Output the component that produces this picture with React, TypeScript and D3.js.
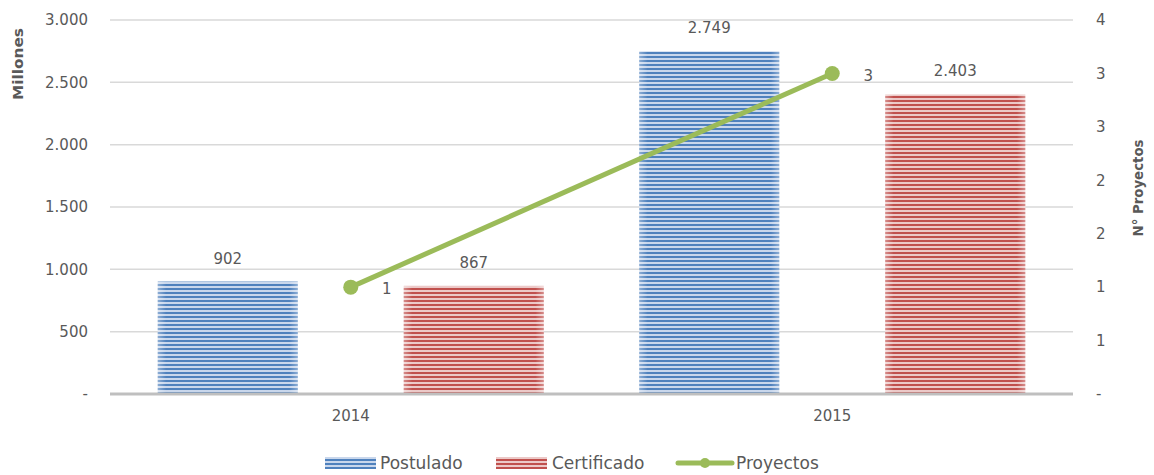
import * as d3 from 'd3';

const years = ['2014', '2015'];
const postulado = [902, 2749];
const certificado = [867, 2403];
const proyectos = [1, 3];
const leftTicks = [0, 500, 1000, 1500, 2000, 2500, 3000];
const rightTicks = [0, 0.5, 1, 1.5, 2, 2.5, 3, 3.5];

const W = 1154;
const H = 475;
const m = { top: 20, right: 81, bottom: 81, left: 110 };
const font = "'Century Gothic', 'URW Gothic', 'DejaVu Sans', sans-serif";
const textColor = '#595959';

const fmtThousands = (v: number) => (v === 0 ? '-' : d3.format(',')(v).replace(/,/g, '.'));
const fmtRight = (v: number) => (v === 0 ? '-' : String(Math.round(v + 1e-9)));

export default function App() {
  const x = d3.scaleBand().domain(years).range([m.left, W - m.right]);
  const y = d3.scaleLinear().domain([0, 3000]).range([H - m.bottom, m.top]);
  const y2 = d3.scaleLinear().domain([0, 3.5]).range([H - m.bottom, m.top]);
  const barW = 140;
  const offset = 123;
  const cx = (d: string) => (x(d) ?? 0) + x.bandwidth() / 2;

  const line = d3
    .line<number>()
    .x((_, i) => cx(years[i]))
    .y((d) => y2(d));

  const series = [
    { name: 'Postulado', values: postulado, dx: -offset, fill: 'url(#pBlue)' },
    { name: 'Certificado', values: certificado, dx: offset, fill: 'url(#pRed)' },
  ];

  return (
    <svg width={W} height={H} style={{ display: 'block', fontFamily: font }}>
      <style>{'body{margin:0}'}</style>
      <defs>
        <pattern id="pBlue" width="4" height="4" patternUnits="userSpaceOnUse">
          <rect width="4" height="4" fill="#c9d7ec" />
          <rect width="4" height="2" fill="#4f81bd" />
        </pattern>
        <pattern id="pRed" width="4" height="4" patternUnits="userSpaceOnUse">
          <rect width="4" height="4" fill="#ecc9c8" />
          <rect width="4" height="2" fill="#c0504d" />
        </pattern>
        <linearGradient id="edge" x1="0" x2="1" y1="0" y2="0">
          <stop offset="0" stopColor="#fff" stopOpacity="0.35" />
          <stop offset="0.06" stopColor="#fff" stopOpacity="0" />
          <stop offset="0.94" stopColor="#fff" stopOpacity="0" />
          <stop offset="1" stopColor="#fff" stopOpacity="0.35" />
        </linearGradient>
      </defs>

      {leftTicks.slice(1).map((t) => (
        <line key={t} x1={m.left} x2={W - m.right} y1={y(t)} y2={y(t)} stroke="#d9d9d9" strokeWidth={1.5} />
      ))}

      {leftTicks.map((t) => (
        <text key={t} x={88} y={y(t)} dy="0.35em" textAnchor="end" fontSize={15} fill={textColor}>
          {fmtThousands(t)}
        </text>
      ))}
      {rightTicks.map((t) => (
        <text key={t} x={1096} y={y2(t)} dy="0.35em" textAnchor="start" fontSize={15} fill={textColor}>
          {fmtRight(t)}
        </text>
      ))}

      <text transform="translate(23,64) rotate(-90)" textAnchor="middle" fontSize={14} fontWeight="bold" fill={textColor} textLength={72} lengthAdjust="spacingAndGlyphs">
        Millones
      </text>
      <text transform="translate(1143,188) rotate(-90)" textAnchor="middle" fontSize={14} fontWeight="bold" fill={textColor} textLength={97} lengthAdjust="spacingAndGlyphs">
        N° Proyectos
      </text>

      {series.map((s) =>
        years.map((yr, i) => {
          const bx = cx(yr) + s.dx - barW / 2;
          const by = y(s.values[i]);
          const bh = y(0) - by;
          return (
            <g key={s.name + yr}>
              <rect x={bx} y={by} width={barW} height={bh} fill={s.fill} />
              <rect x={bx} y={by} width={barW} height={bh} fill="url(#edge)" />
              <text x={bx + barW / 2} y={by - 18} textAnchor="middle" fontSize={15} fill={textColor}>
                {fmtThousands(s.values[i])}
              </text>
            </g>
          );
        })
      )}

      <line x1={m.left} x2={W - m.right} y1={y(0)} y2={y(0)} stroke="#bfbfbf" strokeWidth={3} />

      {years.map((yr) => (
        <text key={yr} x={cx(yr)} y={y(0) + 27} textAnchor="middle" fontSize={15} fill={textColor}>
          {yr}
        </text>
      ))}

      <path d={line(proyectos) ?? ''} fill="none" stroke="#9bbb59" strokeWidth={5} />
      {proyectos.map((p, i) => (
        <g key={i}>
          <circle cx={cx(years[i])} cy={y2(p)} r={7.5} fill="#9bbb59" />
          <text x={cx(years[i]) + 36} y={y2(p) + 2} dy="0.35em" textAnchor="middle" fontSize={15} fill={textColor}>
            {p}
          </text>
        </g>
      ))}

      <g transform="translate(0,463)">
        <rect x={325} y={-6} width={51} height={12} fill="url(#pBlue)" />
        <text x={380} y={0} dy="0.35em" fontSize={17} fill={textColor}>Postulado</text>
        <rect x={496} y={-6} width={51} height={12} fill="url(#pRed)" />
        <text x={552} y={0} dy="0.35em" fontSize={17} fill={textColor}>Certificado</text>
        <line x1={678} x2={732} y1={0} y2={0} stroke="#9bbb59" strokeWidth={5} strokeLinecap="round" />
        <circle cx={705} cy={0} r={5} fill="#9bbb59" />
        <text x={736} y={0} dy="0.35em" fontSize={17} fill={textColor}>Proyectos</text>
      </g>
    </svg>
  );
}
